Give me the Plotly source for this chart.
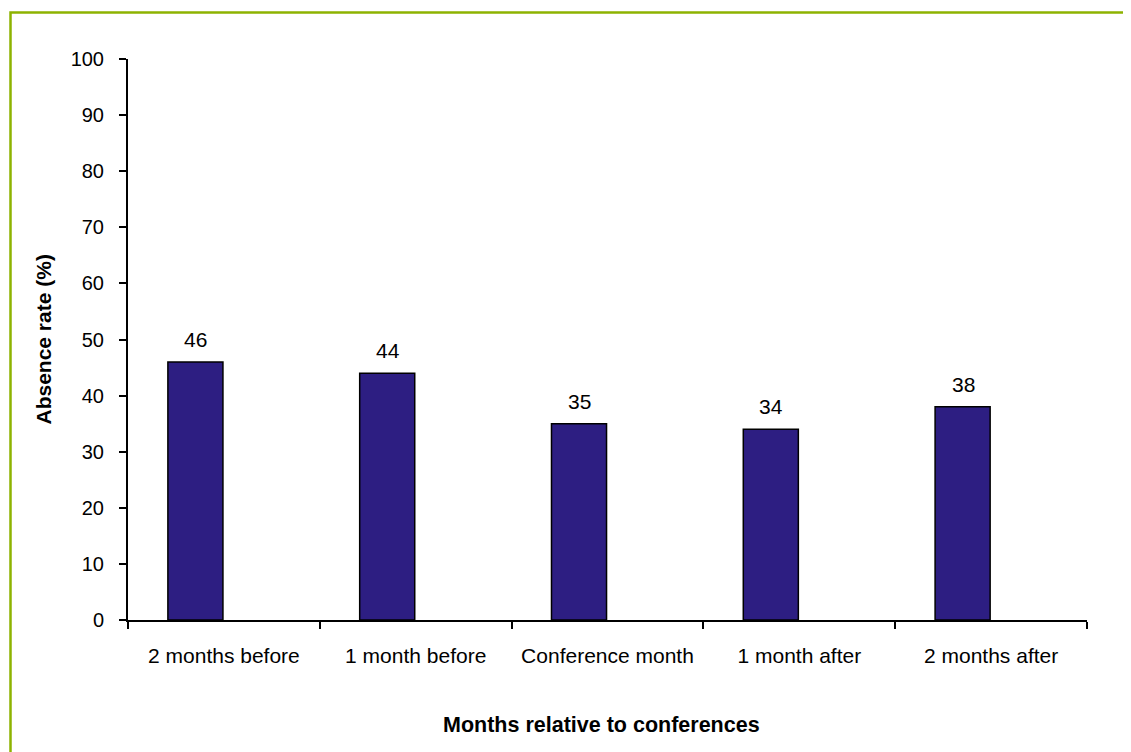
import plotly.graph_objects as go

categories = ["2 months before", "1 month before", "Conference month", "1 month after", "2 months after"]
absence_rate = [46, 44, 35, 34, 38]
y_ticks = [0, 10, 20, 30, 40, 50, 60, 70, 80, 90, 100]

# page has an 8px body margin, so the figure is sized/placed to compensate
OFF = 8
W, H = 1131 - OFF, 752 - OFF
L, T = 128 - OFF, 59 - OFF
R = W - (1087 - OFF)
B = H - (620 - OFF)
pw, ph = W - L - R, H - T - B

FONT = "Liberation Sans, Arial, sans-serif"
BAR = "#2D1E82"
BORDER = "#8DB300"

fig = go.Figure()
fig.add_trace(go.Bar(
    x=categories, y=absence_rate,
    width=0.287, offset=-0.292,
    marker=dict(color=BAR, line=dict(color="black", width=1.5)),
    hoverinfo="skip",
))

for c, v in zip(categories, absence_rate):
    fig.add_annotation(x=c, y=v, xref="x", yref="y", text=str(v), showarrow=False,
                       xshift=-28, yshift=9, yanchor="bottom",
                       font=dict(family=FONT, size=21, color="black"))

fig.add_annotation(text="<b>Months relative to conferences</b>", xref="paper", yref="paper",
                   x=0.5, y=0, yanchor="middle", xshift=-6, yshift=-105, showarrow=False,
                   font=dict(family=FONT, size=21.5, color="black"))
fig.add_annotation(text="<b>Absence rate (%)</b>", xref="paper", yref="paper",
                   x=0, y=0.5, xanchor="center", yanchor="middle", xshift=(43 - OFF) - L,
                   textangle=-90, showarrow=False,
                   font=dict(family=FONT, size=21, color="black"))

# outer border (top and left visible)
bx = ((10.5 - OFF) - L) / pw
by = ((620 - OFF) - (12.5 - OFF)) / ph
fig.add_shape(type="rect", xref="paper", yref="paper", x0=bx, x1=1.3, y0=-0.6, y1=by,
              line=dict(color=BORDER, width=2.5), layer="below")

fig.update_layout(
    width=W, height=H,
    margin=dict(l=L, r=R, t=T, b=B),
    paper_bgcolor="white", plot_bgcolor="white",
    showlegend=False,
    font=dict(family=FONT, size=20, color="black"),
    xaxis=dict(
        type="category", range=[-0.5, 4.5], tickson="boundaries",
        ticks="outside", ticklen=7, tickwidth=2, tickcolor="black",
        showline=True, linecolor="black", linewidth=2,
        showgrid=False, zeroline=False, ticklabelstandoff=16,
        tickfont=dict(family=FONT, size=21, color="black"),
    ),
    yaxis=dict(
        range=[0, 100], tickvals=y_ticks,
        ticks="outside", ticklen=7, tickwidth=2, tickcolor="black",
        showline=True, linecolor="black", linewidth=2,
        showgrid=False, zeroline=False, ticklabelstandoff=11,
        tickfont=dict(family=FONT, size=20, color="black"),
    ),
)

fig.write_html("out.html")
